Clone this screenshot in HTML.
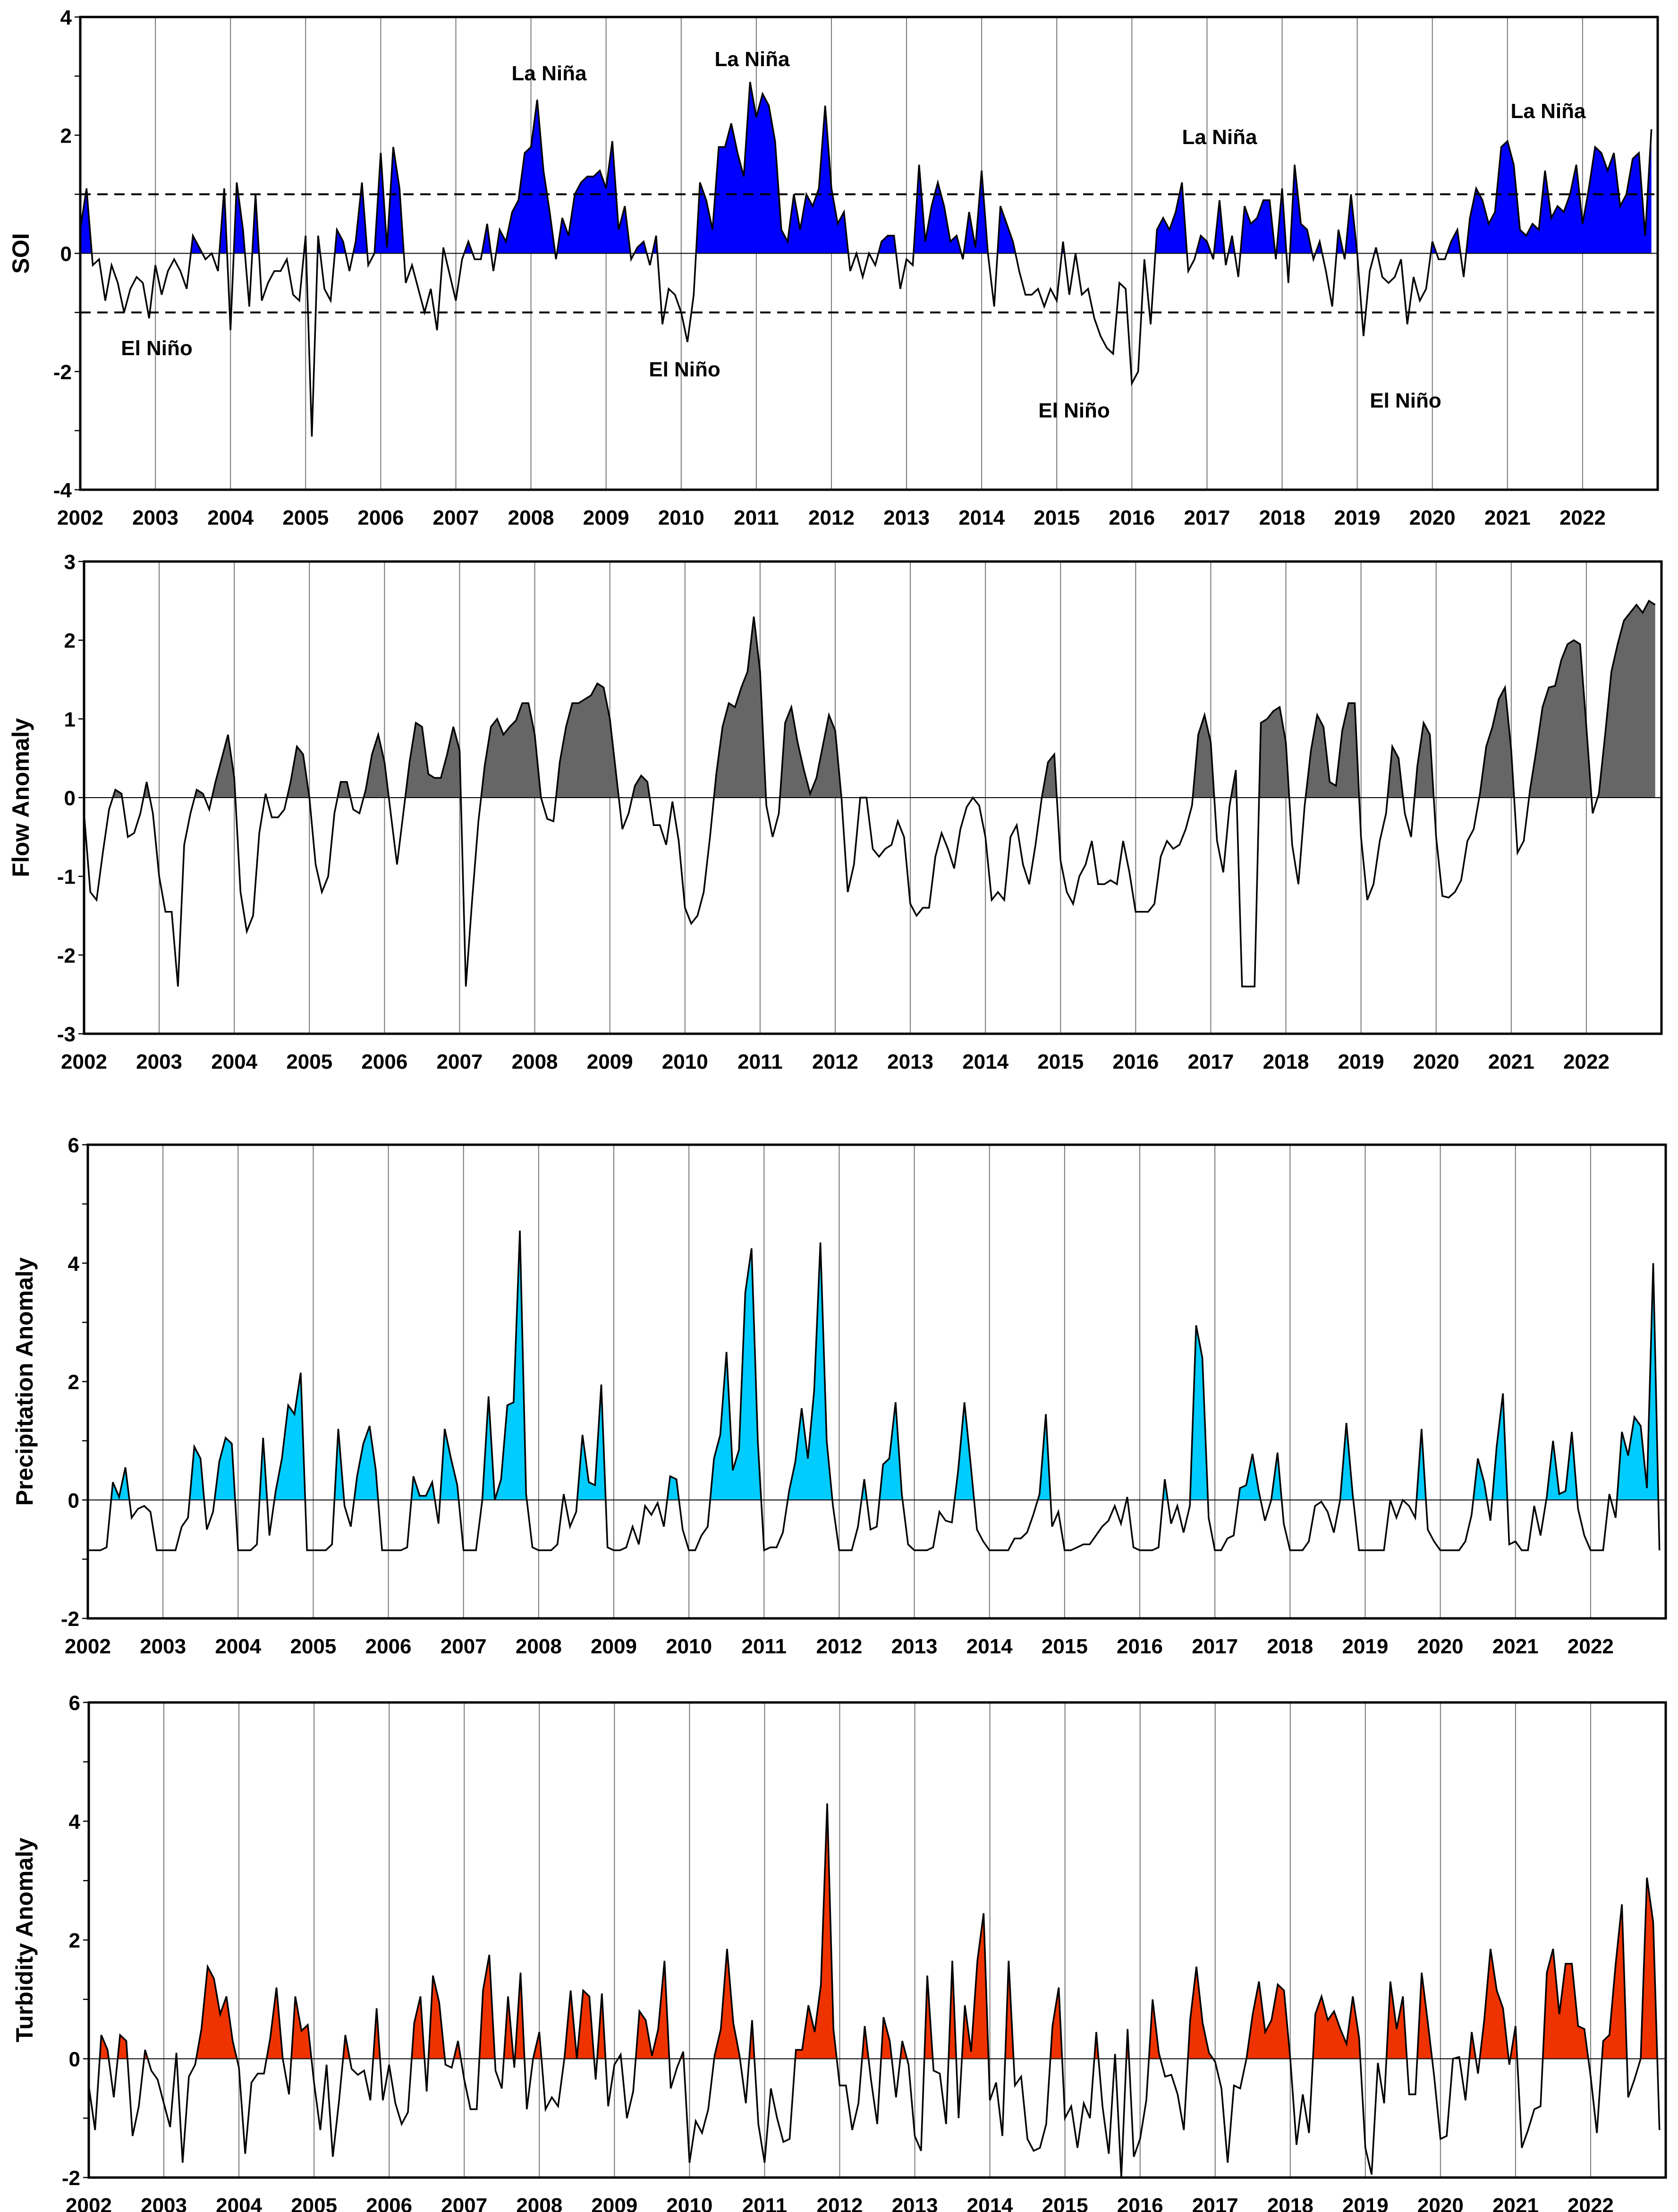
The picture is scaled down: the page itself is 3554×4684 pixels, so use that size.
<!DOCTYPE html>
<html><head><meta charset="utf-8">
<style>
html,body{margin:0;padding:0;background:#fff;}
svg{display:block;font-family:"Liberation Sans",Arial,sans-serif;font-weight:bold;}
</style></head>
<body>
<svg id="chart" xmlns="http://www.w3.org/2000/svg" width="3554" height="4684" viewBox="0 0 3554 4684">
<rect x="0" y="0" width="3554" height="4684" fill="#fff"/>
</svg>
<script>
const yearLabels = ["2002","2003","2004","2005","2006","2007","2008","2009","2010","2011","2012","2013","2014","2015","2016","2017","2018","2019","2020","2021","2022"];

const soiValues = [
0.4,1.1,-0.2,-0.1,-0.8,-0.2,-0.5,-1.0,-0.6,-0.4,-0.5,-1.1,
-0.2,-0.7,-0.3,-0.1,-0.3,-0.6,0.3,0.1,-0.1,0.0,-0.3,1.1,
-1.3,1.2,0.4,-0.9,1.0,-0.8,-0.5,-0.3,-0.3,-0.1,-0.7,-0.8,
0.3,-3.1,0.3,-0.6,-0.8,0.4,0.2,-0.3,0.2,1.2,-0.2,0.0,
1.7,0.1,1.8,1.1,-0.5,-0.2,-0.6,-1.0,-0.6,-1.3,0.1,-0.35,
-0.8,-0.1,0.2,-0.1,-0.1,0.5,-0.3,0.4,0.2,0.7,0.9,1.7,
1.8,2.6,1.4,0.7,-0.1,0.6,0.3,1.0,1.2,1.3,1.3,1.4,
1.1,1.9,0.4,0.8,-0.1,0.1,0.2,-0.2,0.3,-1.2,-0.6,-0.7,
-1.0,-1.5,-0.7,1.2,0.9,0.4,1.8,1.8,2.2,1.7,1.3,2.9,
2.3,2.7,2.5,1.9,0.4,0.2,1.0,0.4,1.0,0.8,1.1,2.5,
1.1,0.5,0.7,-0.3,0.0,-0.4,0.0,-0.2,0.2,0.3,0.3,-0.6,
-0.1,-0.2,1.5,0.2,0.8,1.2,0.8,0.2,0.3,-0.1,0.7,0.1,
1.4,0.0,-0.9,0.8,0.5,0.2,-0.3,-0.7,-0.7,-0.6,-0.9,-0.6,
-0.8,0.2,-0.7,0.0,-0.7,-0.6,-1.1,-1.4,-1.6,-1.7,-0.5,-0.6,
-2.2,-2.0,-0.1,-1.2,0.4,0.6,0.4,0.7,1.2,-0.3,-0.1,0.3,
0.2,-0.1,0.9,-0.2,0.3,-0.4,0.8,0.5,0.6,0.9,0.9,-0.1,
1.1,-0.5,1.5,0.5,0.4,-0.1,0.2,-0.3,-0.9,0.4,-0.1,1.0,
0.0,-1.4,-0.3,0.1,-0.4,-0.5,-0.4,-0.1,-1.2,-0.4,-0.8,-0.6,
0.2,-0.1,-0.1,0.2,0.4,-0.4,0.6,1.1,0.9,0.5,0.7,1.8,
1.9,1.5,0.4,0.3,0.5,0.4,1.4,0.6,0.8,0.7,1.0,1.5,
0.5,1.1,1.8,1.7,1.4,1.7,0.8,1.0,1.6,1.7,0.3,2.1];

const flowValues = [
-0.2,-1.2,-1.3,-0.7,-0.15,0.1,0.05,-0.5,-0.45,-0.2,0.2,-0.2,
-1.0,-1.45,-1.45,-2.4,-0.6,-0.2,0.1,0.05,-0.15,0.2,0.5,0.8,
0.25,-1.2,-1.7,-1.5,-0.45,0.05,-0.25,-0.25,-0.15,0.2,0.65,0.55,
0.0,-0.85,-1.2,-1.0,-0.2,0.2,0.2,-0.15,-0.2,0.1,0.55,0.8,
0.45,-0.2,-0.85,-0.2,0.45,0.95,0.9,0.3,0.25,0.25,0.55,0.9,
0.6,-2.4,-1.3,-0.3,0.4,0.9,1.0,0.8,0.9,0.98,1.2,1.2,
0.8,0.0,-0.27,-0.3,0.45,0.9,1.2,1.2,1.25,1.3,1.45,1.4,
1.0,0.3,-0.4,-0.2,0.15,0.28,0.2,-0.35,-0.35,-0.6,-0.05,-0.55,
-1.4,-1.6,-1.5,-1.2,-0.5,0.3,0.9,1.2,1.15,1.4,1.6,2.3,
1.6,-0.1,-0.5,-0.2,0.95,1.15,0.7,0.35,0.05,0.25,0.65,1.05,
0.85,0.0,-1.2,-0.85,0.0,0.0,-0.65,-0.75,-0.65,-0.6,-0.3,-0.5,
-1.35,-1.5,-1.4,-1.4,-0.75,-0.45,-0.65,-0.9,-0.4,-0.12,0.0,-0.1,
-0.5,-1.3,-1.2,-1.3,-0.5,-0.35,-0.85,-1.1,-0.6,0.0,0.45,0.55,
-0.8,-1.2,-1.35,-1.0,-0.85,-0.55,-1.1,-1.1,-1.05,-1.1,-0.55,-0.95,
-1.45,-1.45,-1.45,-1.35,-0.75,-0.55,-0.65,-0.6,-0.4,-0.1,0.8,1.05,
0.7,-0.55,-0.95,-0.1,0.35,-2.4,-2.4,-2.4,0.95,1.0,1.1,1.15,
0.7,-0.6,-1.1,-0.1,0.6,1.05,0.9,0.2,0.15,0.85,1.2,1.2,
-0.5,-1.3,-1.1,-0.55,-0.2,0.65,0.5,-0.2,-0.5,0.4,0.95,0.8,
-0.5,-1.25,-1.27,-1.2,-1.05,-0.55,-0.4,0.05,0.65,0.9,1.25,1.4,
0.6,-0.7,-0.55,0.1,0.6,1.15,1.4,1.42,1.75,1.95,2.0,1.95,
0.9,-0.2,0.05,0.8,1.6,1.95,2.25,2.35,2.45,2.35,2.5,2.45];

const precipValues = [
-0.85,-0.85,-0.85,-0.8,0.3,0.05,0.55,-0.3,-0.15,-0.1,-0.2,-0.85,
-0.85,-0.85,-0.85,-0.45,-0.3,0.9,0.7,-0.5,-0.2,0.65,1.05,0.95,
-0.85,-0.85,-0.85,-0.75,1.05,-0.6,0.15,0.7,1.6,1.45,2.15,-0.85,
-0.85,-0.85,-0.85,-0.75,1.2,-0.1,-0.45,0.4,0.95,1.25,0.5,-0.85,
-0.85,-0.85,-0.85,-0.8,0.4,0.07,0.07,0.3,-0.4,1.2,0.7,0.25,
-0.85,-0.85,-0.85,0.0,1.75,0.0,0.35,1.6,1.65,4.55,0.1,-0.8,
-0.85,-0.85,-0.85,-0.75,0.1,-0.45,-0.2,1.1,0.3,0.25,1.95,-0.8,
-0.85,-0.85,-0.8,-0.45,-0.75,-0.1,-0.25,-0.05,-0.45,0.4,0.35,-0.5,
-0.85,-0.85,-0.6,-0.45,0.7,1.1,2.5,0.5,0.85,3.5,4.25,1.0,
-0.85,-0.8,-0.8,-0.55,0.15,0.65,1.55,0.7,1.85,4.35,1.0,-0.1,
-0.85,-0.85,-0.85,-0.45,0.35,-0.5,-0.45,0.6,0.7,1.65,0.1,-0.75,
-0.85,-0.85,-0.85,-0.8,-0.2,-0.35,-0.38,0.5,1.65,0.6,-0.5,-0.7,
-0.85,-0.85,-0.85,-0.85,-0.65,-0.65,-0.55,-0.25,0.1,1.45,-0.45,-0.2,
-0.85,-0.85,-0.8,-0.75,-0.75,-0.6,-0.45,-0.35,-0.1,-0.4,0.05,-0.8,
-0.85,-0.85,-0.85,-0.8,0.35,-0.4,-0.1,-0.55,-0.1,2.95,2.4,-0.3,
-0.85,-0.85,-0.65,-0.6,0.2,0.25,0.78,0.15,-0.35,0.0,0.8,-0.4,
-0.85,-0.85,-0.85,-0.7,-0.1,-0.03,-0.2,-0.55,0.0,1.3,0.1,-0.85,
-0.85,-0.85,-0.85,-0.85,0.0,-0.3,0.0,-0.1,-0.3,1.2,-0.5,-0.7,
-0.85,-0.85,-0.85,-0.85,-0.7,-0.25,0.7,0.3,-0.35,0.9,1.8,-0.75,
-0.7,-0.85,-0.85,-0.1,-0.6,0.05,1.0,0.1,0.15,1.15,-0.15,-0.6,
-0.85,-0.85,-0.85,0.1,-0.3,1.15,0.75,1.4,1.25,0.2,4.0,-0.85];

const turbidityValues = [
-0.45,-1.2,0.4,0.15,-0.65,0.4,0.3,-1.3,-0.8,0.15,-0.2,-0.35,
-0.75,-1.15,0.1,-1.75,-0.3,-0.1,0.5,1.55,1.35,0.75,1.05,0.3,
-0.15,-1.6,-0.4,-0.25,-0.25,0.35,1.2,0.0,-0.6,1.05,0.47,0.57,
-0.4,-1.2,-0.1,-1.65,-0.7,0.4,-0.17,-0.27,-0.2,-0.7,0.85,-0.7,
-0.1,-0.75,-1.1,-0.9,0.6,1.05,-0.55,1.4,0.95,-0.1,-0.15,0.3,
-0.35,-0.85,-0.85,1.15,1.75,-0.2,-0.5,1.05,-0.15,1.45,-0.85,0.0,
0.45,-0.85,-0.65,-0.8,0.0,1.15,0.0,1.15,1.05,-0.35,1.1,-0.8,
-0.1,0.07,-1.0,-0.55,0.8,0.65,0.05,0.5,1.65,-0.5,-0.15,0.12,
-1.75,-1.05,-1.25,-0.85,0.05,0.5,1.85,0.6,0.05,-0.75,0.65,-1.1,
-1.75,-0.5,-1.0,-1.4,-1.35,0.15,0.15,0.9,0.45,1.25,4.3,0.5,
-0.45,-0.45,-1.2,-0.75,0.55,-0.35,-1.1,0.7,0.3,-0.65,0.3,-0.1,
-1.3,-1.55,1.4,-0.2,-0.25,-1.1,1.65,-1.0,0.9,0.12,1.65,2.45,
-0.7,-0.4,-1.3,1.65,-0.45,-0.3,-1.35,-1.55,-1.5,-1.1,0.55,1.2,
-1.0,-0.8,-1.5,-0.75,-1.0,0.45,-0.8,-1.6,0.08,-2.0,0.5,-1.65,
-1.35,-0.7,1.0,0.1,-0.3,-0.27,-0.6,-1.2,0.65,1.55,0.6,0.1,
-0.05,-0.5,-1.75,-0.45,-0.5,0.0,0.75,1.3,0.45,0.65,1.25,1.15,
0.0,-1.45,-0.6,-1.25,0.75,1.05,0.65,0.8,0.5,0.25,1.05,0.35,
-1.5,-1.95,-0.07,-0.75,1.3,0.5,1.05,-0.6,-0.6,1.45,0.6,-0.3,
-1.35,-1.3,0.0,0.03,-0.7,0.45,-0.25,0.65,1.85,1.15,0.85,-0.1,
0.55,-1.5,-1.2,-0.85,-0.8,1.45,1.85,0.75,1.6,1.6,0.55,0.5,
-0.3,-1.25,0.3,0.4,1.6,2.6,-0.65,-0.35,0.0,3.05,2.3,-1.2];

const NS = "http://www.w3.org/2000/svg";
const svg = document.getElementById('chart');
function mk(tag, attrs, parent){
  const e = document.createElementNS(NS, tag);
  for (const k in attrs) e.setAttribute(k, attrs[k]);
  (parent || svg).appendChild(e);
  return e;
}

const panels = [
  {key:'soi', values:soiValues, left:170, right:3511, top:36, bottom:1037, ymin:-4, ymax:4, labelStep:2, fill:'#0000ff', title:'SOI', titleX:48, dashed:true},
  {key:'flow', values:flowValues, left:178, right:3519, top:1189, bottom:2189, ymin:-3, ymax:3, labelStep:1, fill:'#666666', title:'Flow Anomaly', titleX:48},
  {key:'precipitation', values:precipValues, left:186, right:3528, top:2424, bottom:3427, ymin:-2, ymax:6, labelStep:2, fill:'#00ccff', title:'Precipitation Anomaly', titleX:56},
  {key:'turbidity', values:turbidityValues, left:188, right:3528, top:3605, bottom:4611, ymin:-2, ymax:6, labelStep:2, fill:'#ee3300', title:'Turbidity Anomaly', titleX:56}
];

panels.forEach(function(p, pi){
  const g = mk('g', {});
  
  
  const yearW = (p.right - p.left) / 21;
  const xs = function(i){ return p.left + i * yearW / 12; };
  const ys = function(v){ return p.bottom - (v - p.ymin) / (p.ymax - p.ymin) * (p.bottom - p.top); };
  const y0 = ys(0);

  // year gridlines
  for (let k = 1; k < 21; k++) {
    const gl = mk('line', {x1:p.left + k*yearW, x2:p.left + k*yearW, y1:p.top, y2:p.bottom, stroke:'#777', 'stroke-width':2}, g);
    
    
  }

  // clip to above zero
  const cpId = 'clip' + pi;
  const cp = mk('clipPath', {id:cpId}, g);
  mk('rect', {x:p.left, y:p.top, width:p.right-p.left, height:y0-p.top}, cp);

  let pts = '';
  p.values.forEach(function(v,i){ pts += xs(i).toFixed(1) + ',' + ys(v).toFixed(1) + ' '; });
  const areaPts = xs(0).toFixed(1) + ',' + y0 + ' ' + pts + xs(p.values.length-1).toFixed(1) + ',' + y0;
  const area = mk('polygon', {points:areaPts, fill:p.fill, 'clip-path':'url(#'+cpId+')'}, g);
  
  

  // zero line
  const zl = mk('line', {x1:p.left, x2:p.right, y1:y0, y2:y0, stroke:'#000', 'stroke-width':2}, g);
  
  

  if (p.dashed) {
    [1,-1].forEach(function(t){
      const dl = mk('line', {x1:p.left, x2:p.right, y1:ys(t), y2:ys(t), stroke:'#000', 'stroke-width':4, 'stroke-dasharray':'22,14'}, g);
      
      
    });
  }

  const line = mk('polyline', {points:pts, fill:'none', stroke:'#000', 'stroke-width':3.5, 'stroke-linejoin':'miter'}, g);
  
  

  // frame
  const fr = mk('rect', {x:p.left, y:p.top, width:p.right-p.left, height:p.bottom-p.top, fill:'none', stroke:'#000', 'stroke-width':5}, g);
  
  

  // y ticks
  for (let v = p.ymin; v <= p.ymax; v++) {
    const tk = mk('line', {x1:p.left-12, x2:p.left, y1:ys(v), y2:ys(v), stroke:'#000', 'stroke-width':2.5}, g);
    
    
    if ((v - p.ymin) % p.labelStep === 0) {
      const tl = mk('text', {x:p.left-18, y:ys(v)+16, 'text-anchor':'end', 'font-size':44, fill:'#000'}, g);
      tl.textContent = String(v);
      
      
    }
  }

  // x labels
  yearLabels.forEach(function(lbl,k){
    const xl = mk('text', {x:p.left + k*yearW, y:p.bottom+74, 'text-anchor':'middle', 'font-size':44, fill:'#000'}, g);
    xl.textContent = lbl;
    
    
  });

  // title
  const cy = (p.top + p.bottom) / 2;
  const tt = mk('text', {x:p.titleX, y:cy, 'text-anchor':'middle', 'font-size':50, fill:'#000', transform:'rotate(-90 '+p.titleX+' '+cy+')', 'dominant-baseline':'middle'}, g);
  tt.textContent = p.title;
  
  
});

const annotations = [
  ['La Niña',1163,170],['La Niña',1593,140],['La Niña',2583,305],['La Niña',3279,250],
  ['El Niño',332,752],['El Niño',1450,797],['El Niño',2275,884],['El Niño',2977,863]
];
annotations.forEach(function(a){
  const t = mk('text', {x:a[1], y:a[2], 'text-anchor':'middle', 'font-size':44, fill:'#000'});
  t.textContent = a[0];
  
  
});
</script>
</body></html>
